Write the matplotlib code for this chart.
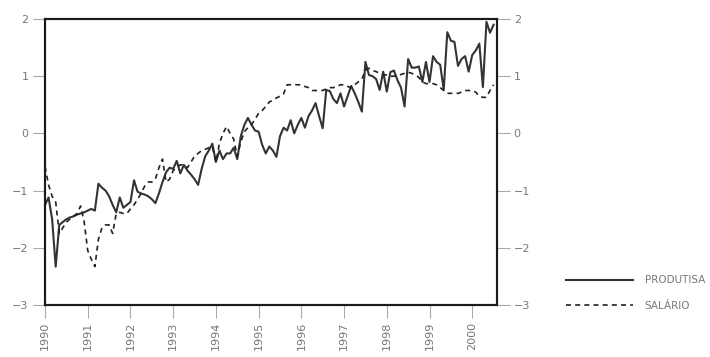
import numpy as np
import matplotlib
matplotlib.use("Agg")
from matplotlib import pyplot as plt

# séries mensais, jan/1990 a jul/2000
produtisa = [-1.25, -1.12, -1.5, -2.33, -1.6, -1.55, -1.5, -1.47, -1.45, -1.42, -1.4, -1.38,
             -1.35, -1.32, -1.35, -0.88, -0.95, -1.0, -1.1, -1.25, -1.38, -1.12, -1.3, -1.25,
             -1.2, -0.82, -1.02, -1.05, -1.07, -1.1, -1.15, -1.22, -1.05, -0.85, -0.68, -0.6,
             -0.62, -0.48, -0.7, -0.55, -0.65, -0.72, -0.8, -0.9, -0.62, -0.4, -0.3, -0.18,
             -0.5, -0.3, -0.45, -0.35, -0.35, -0.25, -0.45, -0.05, 0.15, 0.27, 0.15, 0.05,
             0.03, -0.2, -0.35, -0.23, -0.3, -0.41, -0.05, 0.1, 0.05, 0.23, 0.0, 0.15,
             0.27, 0.1, 0.3, 0.4, 0.53, 0.3, 0.09, 0.76, 0.74, 0.6, 0.53, 0.7,
             0.47, 0.65, 0.83, 0.7, 0.55, 0.38, 1.25, 1.02, 1.0, 0.95, 0.76, 1.08,
             0.73, 1.07, 1.1, 0.93, 0.8, 0.47, 1.3, 1.15, 1.15, 1.17, 0.9, 1.25,
             0.9, 1.35, 1.25, 1.2, 0.76, 1.77, 1.62, 1.6, 1.18, 1.3, 1.35, 1.08,
             1.37, 1.45, 1.57, 0.81, 1.95, 1.76, 1.9]
salario = [-0.58, -0.9, -1.1, -1.2, -1.75, -1.65, -1.55, -1.5, -1.45, -1.4, -1.27, -1.55,
           -2.05, -2.2, -2.33, -1.85, -1.65, -1.6, -1.6, -1.75, -1.4, -1.38, -1.4, -1.4,
           -1.32, -1.25, -1.15, -1.05, -0.92, -0.85, -0.85, -0.8, -0.6, -0.45, -0.85, -0.8,
           -0.65, -0.6, -0.55, -0.55, -0.6, -0.5, -0.4, -0.35, -0.3, -0.28, -0.25, -0.23,
           -0.5, -0.17, 0.0, 0.12, 0.0, -0.1, -0.4, -0.15, 0.03, 0.1, 0.15, 0.25,
           0.35, 0.4, 0.47, 0.55, 0.58, 0.62, 0.65, 0.69, 0.85, 0.85, 0.85, 0.85,
           0.85, 0.82, 0.8, 0.75, 0.75, 0.75, 0.75, 0.78, 0.8, 0.8, 0.82, 0.85,
           0.85, 0.82, 0.8, 0.85, 0.9, 0.95, 1.1, 1.14, 1.1, 1.08, 1.05, 1.03,
           1.02, 1.0, 1.0, 1.02, 1.03, 1.05, 1.07, 1.05, 1.02, 0.98, 0.9, 0.87,
           0.87, 0.87, 0.85, 0.8, 0.75, 0.7, 0.7, 0.7, 0.7, 0.72, 0.75, 0.75,
           0.75, 0.72, 0.65, 0.63, 0.63, 0.75, 0.85]
anos = list(range(1990, 2001))
y_ticks = [-3, -2, -1, 0, 1, 2]

t = 1990 + np.arange(len(produtisa)) / 12.0

fig = plt.figure(figsize=(7.1, 3.57), dpi=100)
ax = fig.add_axes([0.0634, 0.1457, 0.6366, 0.8011])

ax.plot(t, produtisa, color='#333333', lw=1.5, label='PRODUTISA')
ax.plot(t, salario, color='#222222', lw=1.2, ls=(0, (3, 2.5)), label='SALÁRIO')

ax.set_xlim(1990, 2000.58)
ax.set_ylim(-3, 2)
ax.set_xticks(anos)
ax.set_xticklabels([str(a) for a in anos], rotation=90)
ax.set_yticks(y_ticks)

ax2 = ax.twinx()
ax2.set_ylim(-3, 2)
ax2.set_yticks(y_ticks)

for a in (ax, ax2):
    for s in a.spines.values():
        s.set_linewidth(1.5)
        s.set_color('#1a1a1a')
    a.tick_params(direction='out', length=9, width=0.8, color='#aaaaaa',
                  labelcolor='#777777', labelsize=8, pad=3)

ax.legend(loc='center left', bbox_to_anchor=(0.797, 0.179),
          bbox_transform=fig.transFigure, frameon=False, borderpad=0,
          borderaxespad=0, fontsize=7.5, labelcolor='#777777',
          handlelength=6.4, labelspacing=1.5, handletextpad=1.15)

fig.savefig('out.png', dpi=100)
